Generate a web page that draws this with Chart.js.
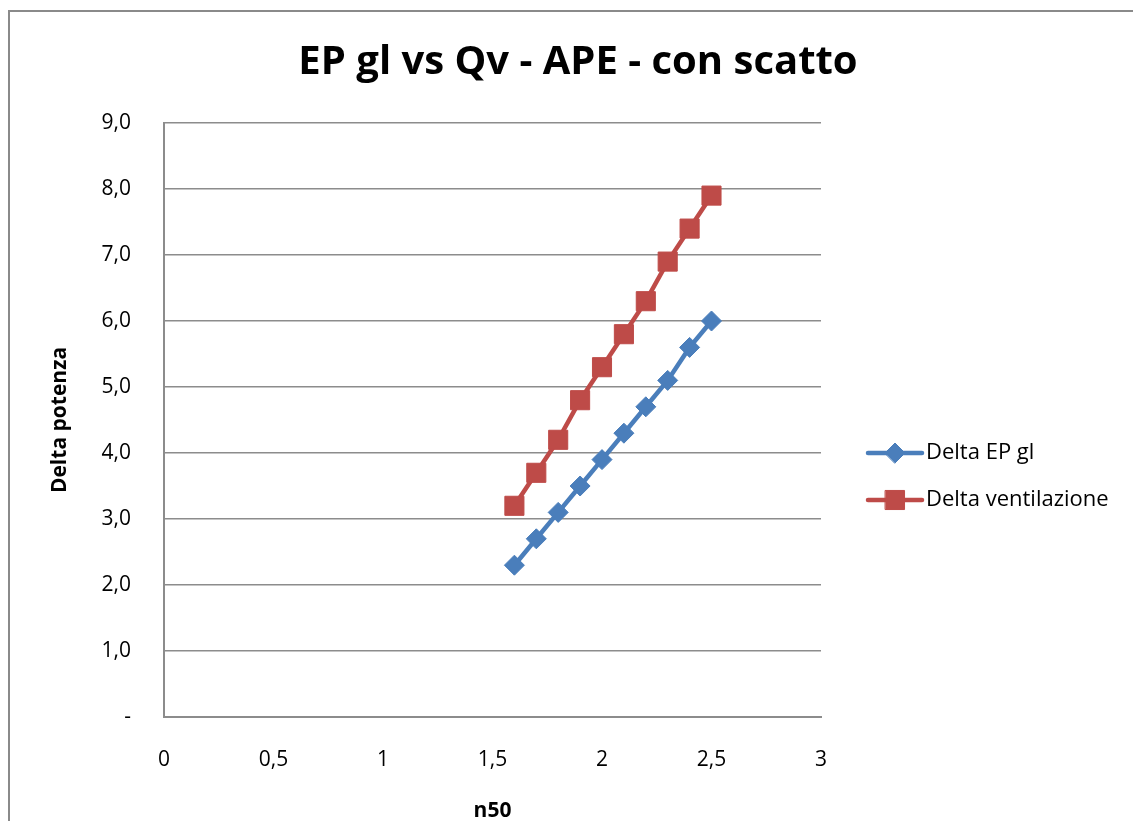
<!DOCTYPE html>
<html>
<head>
<meta charset="utf-8">
<script src="https://cdn.jsdelivr.net/npm/chart.js@4/dist/chart.umd.min.js"></script>
<style>
  html, body { margin: 0; padding: 0; background: #ffffff; }
  #wrap { width: 1133px; height: 821px; position: relative; }
</style>
</head>
<body>
<div id="wrap"><canvas id="c" width="1133" height="821"></canvas></div>
<script>
const chartTitle = 'EP gl vs Qv - APE - con scatto';
const xAxisTitle = 'n50';
const yAxisTitle = 'Delta potenza';
const seriesNames = ['Delta EP gl', 'Delta ventilazione'];
const n50Values = [1.6, 1.7, 1.8, 1.9, 2.0, 2.1, 2.2, 2.3, 2.4, 2.5];
const deltaEPgl = [2.3, 2.7, 3.1, 3.5, 3.9, 4.3, 4.7, 5.1, 5.6, 6.0];
const deltaVentilazione = [3.2, 3.7, 4.2, 4.8, 5.3, 5.8, 6.3, 6.9, 7.4, 7.9];
const xTicks = [0, 0.5, 1, 1.5, 2, 2.5, 3];
const yTicks = [0, 1, 2, 3, 4, 5, 6, 7, 8, 9];

const FONT = '"Open Sans", Lato, sans-serif';
const BLUE = '#4A7EBB';
const RED = '#BE4B48';
const GRID = '#8C8C8C';

const toPoints = (xs, ys) => xs.map((x, i) => ({ x: x, y: ys[i] }));
const fmtComma = (v, d) => (d === undefined ? String(v) : v.toFixed(d)).replace('.', ',');

const decorPlugin = {
  id: 'decor',
  beforeDraw(chart) {
    const ctx = chart.ctx;
    ctx.save();
    ctx.fillStyle = '#ffffff';
    ctx.fillRect(0, 0, chart.width, chart.height);
    ctx.strokeStyle = '#8A8A8A';
    ctx.lineWidth = 2;
    ctx.strokeRect(9, 11, chart.width + 50, chart.height + 50);
    ctx.restore();
  },
  afterDraw(chart) {
    const ctx = chart.ctx;
    ctx.save();
    // title
    ctx.fillStyle = '#000000';
    ctx.font = 'bold 40px ' + FONT;
    ctx.textAlign = 'center';
    ctx.textBaseline = 'middle';
    ctx.fillText(chartTitle, 578, 63);
    // legend
    const rows = [453, 500];
    chart.data.datasets.forEach((ds, i) => {
      const y = rows[i];
      ctx.strokeStyle = ds.borderColor;
      ctx.lineWidth = ds.borderWidth;
      ctx.lineCap = 'round';
      ctx.beginPath();
      ctx.moveTo(868, y);
      ctx.lineTo(922, y);
      ctx.stroke();
      ctx.fillStyle = ds.pointBackgroundColor;
      ctx.strokeStyle = ds.pointBorderColor;
      ctx.lineWidth = ds.pointBorderWidth;
      Chart.helpers.drawPoint(ctx, { pointStyle: ds.pointStyle, radius: ds.pointRadius, borderWidth: ds.pointBorderWidth, rotation: 0 }, 895, y);
      ctx.fillStyle = '#000000';
      ctx.font = '22px ' + FONT;
      ctx.textAlign = 'left';
      ctx.textBaseline = 'middle';
      ctx.fillText(ds.label, 926, y);
    });
    ctx.restore();
  }
};

new Chart(document.getElementById('c'), {
  type: 'scatter',
  data: {
    datasets: [
      {
        label: seriesNames[0],
        data: toPoints(n50Values, deltaEPgl),
        showLine: true,
        borderColor: BLUE,
        backgroundColor: BLUE,
        borderWidth: 4.5,
        pointStyle: 'rectRot',
        pointRadius: 10,
        pointBackgroundColor: BLUE,
        pointBorderColor: BLUE,
        pointBorderWidth: 1
      },
      {
        label: seriesNames[1],
        data: toPoints(n50Values, deltaVentilazione),
        showLine: true,
        borderColor: RED,
        backgroundColor: RED,
        borderWidth: 4.5,
        pointStyle: 'rect',
        pointRadius: 13.5,
        pointBackgroundColor: RED,
        pointBorderColor: RED,
        pointBorderWidth: 1
      }
    ]
  },
  options: {
    responsive: false,
    animation: false,
    devicePixelRatio: 1,
    layout: { padding: { left: 0, top: 123, right: 312, bottom: 0 } },
    plugins: {
      legend: { display: false },
      title: { display: false },
      tooltip: { enabled: false }
    },
    scales: {
      x: {
        type: 'linear',
        min: xTicks[0],
        max: xTicks[xTicks.length - 1],
        afterBuildTicks(scale) { scale.ticks = xTicks.map(v => ({ value: v })); },
        ticks: {
          callback: v => fmtComma(v),
          color: '#000000',
          font: { family: FONT, size: 21 },
          padding: 30,
          maxRotation: 0
        },
        grid: { display: false, drawTicks: false },
        border: { display: true, color: GRID, width: 2 },
        title: {
          display: true,
          text: xAxisTitle,
          color: '#000000',
          font: { family: FONT, size: 21, weight: 'bold', lineHeight: 1 },
          padding: { top: 0, bottom: -1 }
        },
        afterFit(scale) { scale.height = 104; }
      },
      y: {
        type: 'linear',
        min: yTicks[0],
        max: yTicks[yTicks.length - 1],
        afterBuildTicks(scale) { scale.ticks = yTicks.map(v => ({ value: v })); },
        ticks: {
          callback: v => (v === 0 ? '-' : fmtComma(v, 1)),
          color: '#000000',
          font: { family: FONT, size: 21 },
          padding: 33
        },
        grid: { display: true, color: GRID, lineWidth: 1.5, drawTicks: false },
        border: { display: true, color: GRID, width: 2 },
        title: {
          display: true,
          text: yAxisTitle,
          color: '#000000',
          font: { family: FONT, size: 21, weight: 'bold', lineHeight: 1.2 },
          padding: { top: 47, bottom: 0 }
        },
        afterFit(scale) { scale.width = 164; }
      }
    }
  },
  plugins: [decorPlugin]
});
</script>
</body>
</html>
